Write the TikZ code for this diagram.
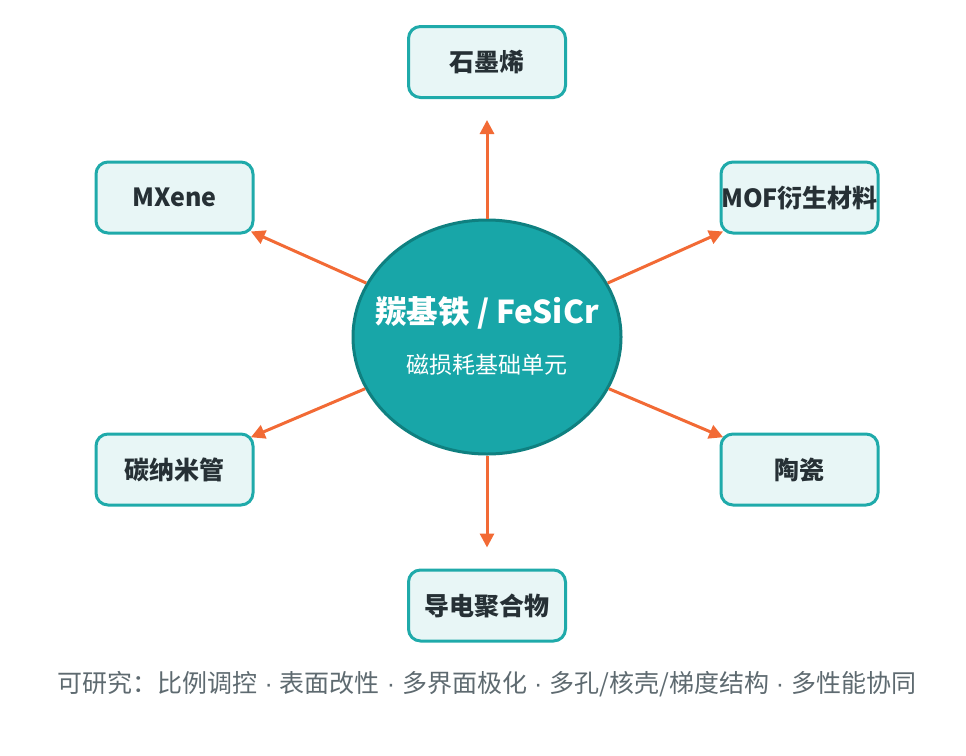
\documentclass[tikz,border=0pt]{standalone}
\usepackage{fontspec}
\setmainfont{Noto Sans CJK SC}
\newfontfamily\cjk{Noto Sans CJK SC}
\newfontfamily\latn{Liberation Sans}
\usetikzlibrary{arrows.meta,shapes.geometric}
\definecolor{tealfill}{HTML}{18A6A8}
\definecolor{tealdark}{HTML}{0F8080}
\definecolor{boxfill}{HTML}{E8F6F6}
\definecolor{boxline}{HTML}{1FAAAA}
\definecolor{arrorange}{HTML}{F26A35}
\definecolor{txtdark}{HTML}{263035}
\definecolor{captxt}{HTML}{5E6A70}
\newcommand{\sepdot}{{\latn\ ·\ }}
\tikzset{
  matbox/.style={draw=boxline, fill=boxfill, line width=3pt, rounded corners=12pt,
    minimum width=157pt, minimum height=71pt, inner sep=0pt,
    font=\cjk\bfseries\fontsize{25}{28}\selectfont, text=txtdark},
  core/.style={ellipse, draw=tealdark, fill=tealfill, line width=3pt,
    minimum width=268pt, minimum height=234pt, inner sep=0pt},
  arr/.style={draw=arrorange, line width=3pt, -{Triangle[length=14pt,width=14pt]}},
}
\begin{document}
\begin{tikzpicture}[x=1pt,y=-1pt]
\useasboundingbox (0,0) rectangle (966,755);
\node[core] (c) at (487,337) {};
\node[text=white, font=\cjk\bfseries\fontsize{31.5}{34}\selectfont] (t1) at (487,313) {羰基铁 / FeSiCr};
\node[text=white, font=\cjk\fontsize{23}{26}\selectfont] (t2) at (487,365) {磁损耗基础单元};
\node[matbox] (g) at (487,62) {石墨烯};
\node[matbox] (mx) at (174.5,197.5) {MXene};
\node[matbox] (mof) at (799.5,197.5) {MOF衍生材料};
\node[matbox] (cnt) at (174.5,469.5) {碳纳米管};
\node[matbox] (cer) at (799.5,469.5) {陶瓷};
\node[matbox] (cp) at (487,605.5) {导电聚合物};
\draw[arr, shorten >=21pt] (c) -- (g);
\draw[arr, shorten >=21pt] (c) -- (cp);
\draw[arr, shorten >=-4pt] (c) -- (mx);
\draw[arr, shorten >=-4pt] (c) -- (mof);
\draw[arr, shorten >=-4pt] (c) -- (cnt);
\draw[arr, shorten >=-4pt] (c) -- (cer);
\node[text=captxt, font=\cjk\fontsize{25}{28}\selectfont] (cap) at (487,684) {可研究：比例调控\sepdot 表面改性\sepdot 多界面极化\sepdot 多孔/核壳/梯度结构\sepdot 多性能协同};
\end{tikzpicture}
\end{document}
